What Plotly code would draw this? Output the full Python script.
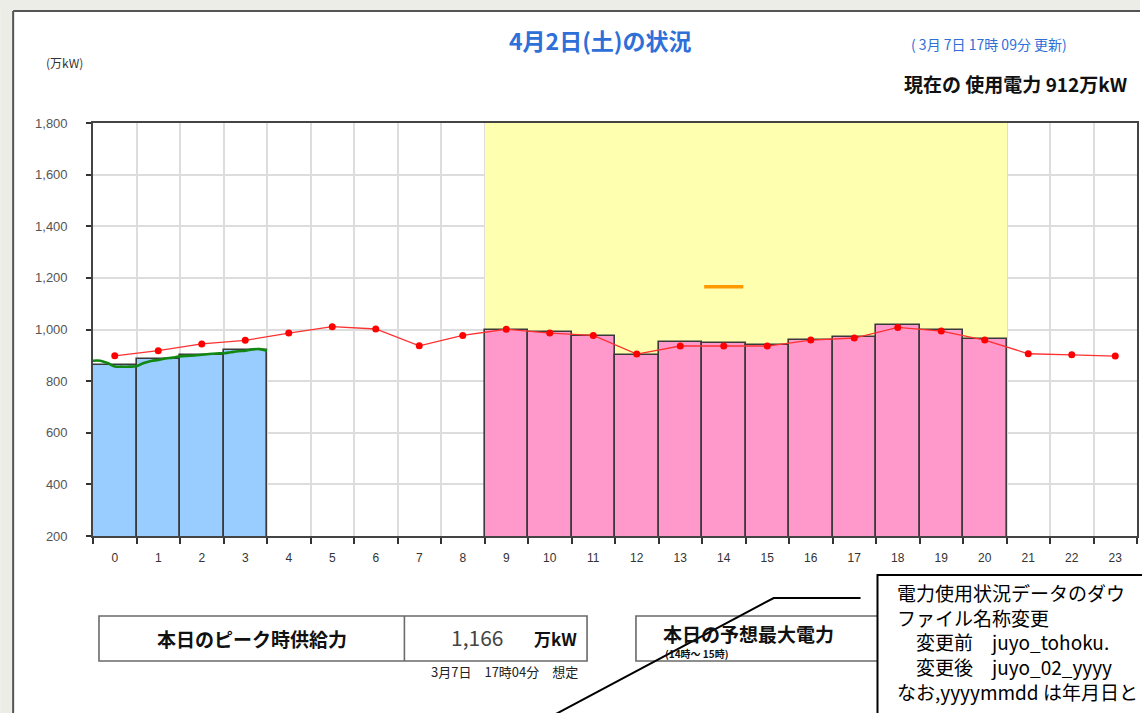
import plotly.graph_objects as go

# ---------------- data ----------------
hours = list(range(24))
hour_labels = [str(h) for h in hours]

actual_hours = [0, 1, 2, 3]
actual_vals = [864, 886, 901, 919]

forecast_hours = [9, 10, 11, 12, 13, 14, 15, 16, 17, 18, 19, 20]
forecast_vals = [1000, 989, 974, 902, 953, 949, 939, 959, 970, 1017, 1000, 962]

prev_vals = [898, 918, 944, 958, 986, 1011, 1002, 937, 977, 1001, 986, 977,
             905, 936, 936, 936, 959, 967, 1008, 994, 959, 906, 902, 897]

green_t = [0, 1/6, 2/6, 3/6, 4/6, 5/6, 1, 7/6, 8/6, 9/6, 10/6, 11/6, 2,
           13/6, 14/6, 15/6, 16/6, 17/6, 3, 19/6, 20/6, 21/6, 22/6, 23/6, 4]
green_vals = [879, 879, 870, 857, 856, 856, 858, 870, 878, 882, 888, 891, 896,
              898, 899, 902, 905, 907, 908, 912, 916, 918, 923, 924, 918]

peak_supply = 1166
peak_hour = 14

y_min, y_max = 200, 1800
y_ticks = [200, 400, 600, 800, 1000, 1200, 1400, 1600, 1800]

# ---------------- geometry helpers ----------------
W, H = 1142, 713
ML, MR, MT, MB = 93, 3, 123, 177
PW, PH = W - ML - MR, H - MT - MB


def X(px):
    return (px - ML) / PW


def Y(py):
    return (H - MB - py) / PH


JP = "Noto Sans CJK JP"
BLUE_TXT = "#2E6FD8"

fig = go.Figure()

# yellow forecast window (as full-height bars behind everything)
fig.add_trace(go.Bar(x=forecast_hours, y=[y_max] * len(forecast_hours), width=1,
                     marker=dict(color="#FFFFB0", line=dict(width=0)),
                     hoverinfo="skip", showlegend=False))
fig.add_trace(go.Bar(x=actual_hours, y=actual_vals, width=1,
                     marker=dict(color="#99CCFF", line=dict(color="#3A3A3A", width=1.6)),
                     showlegend=False))
fig.add_trace(go.Bar(x=forecast_hours, y=forecast_vals, width=1,
                     marker=dict(color="#FF99CC", line=dict(color="#3A3A3A", width=1.6)),
                     showlegend=False))
fig.add_trace(go.Scatter(x=[t - 0.5 for t in green_t], y=green_vals, mode="lines",
                         line=dict(color="#118811", width=2.6, shape="spline"),
                         showlegend=False))
fig.add_trace(go.Scatter(x=hours, y=prev_vals, mode="lines+markers",
                         line=dict(color="#FF3030", width=1.3),
                         marker=dict(color="#FF0000", size=7),
                         showlegend=False))
fig.add_trace(go.Scatter(x=[peak_hour - 0.45, peak_hour + 0.45], y=[peak_supply, peak_supply],
                         mode="lines", line=dict(color="#FF9900", width=3.5),
                         showlegend=False))

shapes = []
# page frame
shapes.append(dict(type="rect", xref="paper", yref="paper", x0=X(0), x1=X(W), y0=Y(10), y1=Y(0),
                   fillcolor="#ECEDE6", line=dict(width=0), layer="below"))
shapes.append(dict(type="rect", xref="paper", yref="paper", x0=X(0), x1=X(13), y0=Y(H), y1=Y(0),
                   fillcolor="#ECEDE6", line=dict(width=0), layer="below"))
shapes.append(dict(type="line", xref="paper", yref="paper", x0=X(13), x1=X(W), y0=Y(11), y1=Y(11),
                   line=dict(color="#555555", width=2)))
shapes.append(dict(type="line", xref="paper", yref="paper", x0=X(13), x1=X(13), y0=Y(11), y1=Y(H),
                   line=dict(color="#555555", width=2)))
# bottom boxes
shapes.append(dict(type="rect", xref="paper", yref="paper", x0=X(99), x1=X(588), y0=Y(661), y1=Y(616),
                   line=dict(color="#6A6A6A", width=1.6), fillcolor="white"))
shapes.append(dict(type="line", xref="paper", yref="paper", x0=X(405), x1=X(405), y0=Y(661), y1=Y(616),
                   line=dict(color="#6A6A6A", width=1.6)))
shapes.append(dict(type="rect", xref="paper", yref="paper", x0=X(637), x1=X(900), y0=Y(661), y1=Y(616),
                   line=dict(color="#6A6A6A", width=1.6), fillcolor="white"))
# callout pointer
shapes.append(dict(type="path", xref="paper", yref="paper",
                   path="M {} {} L {} {} L {} {}".format(X(553), Y(716), X(775), Y(598), X(862), Y(598)),
                   line=dict(color="#000000", width=2)))
# callout box
shapes.append(dict(type="rect", xref="paper", yref="paper", x0=X(879), x1=X(1160), y0=Y(730), y1=Y(575),
                   line=dict(color="#000000", width=2), fillcolor="white"))

annotations = []


def txt(text, px, py, size, color="#000000", xanchor="left", bold=False, yanchor="middle", align="left"):
    if bold:
        text = "<b>" + text + "</b>"
    annotations.append(dict(text=text, x=X(px), y=Y(py), xref="paper", yref="paper",
                            xanchor=xanchor, yanchor=yanchor, showarrow=False, align=align,
                            font=dict(family=JP, size=size, color=color)))


txt("4月2日(土)の状況", 601, 40, 23, BLUE_TXT, "center", bold=True)
txt("( 3月 7日 17時 09分 更新)", 911, 44, 14, BLUE_TXT, "left")
txt("(万kW)", 44, 62, 12, "#333333", "left")
txt("現在の 使用電力 912万kW", 1131, 84, 19, "#111111", "right", bold=True)

txt("本日のピーク時供給力", 252, 638, 19, "#111111", "center", bold=True)
txt("1,166", 506, 637, 21, "#444444", "right")
txt("万kW", 580, 638, 17, "#111111", "right", bold=True)
txt("3月7日　17時04分　想定", 581, 671, 13, "#222222", "right")

txt("本日の予想最大電力", 662, 633, 19, "#111111", "left", bold=True)
txt("(14時～ 15時)", 664, 653, 10, "#111111", "left", bold=True)

call_lines = ["電力使用状況データのダウ",
              "ファイル名称変更",
              "　変更前　juyo_tohoku.",
              "　変更後　juyo_02_yyyy",
              "なお,yyyymmdd は年月日と"]
txt("<br>".join(call_lines), 897, 577, 19, "#000000", "left", yanchor="top")

fig.update_layout(
    width=W, height=H,
    margin=dict(l=ML, r=MR, t=MT, b=MB, pad=0),
    paper_bgcolor="white", plot_bgcolor="white",
    barmode="overlay", bargap=0,
    showlegend=False,
    shapes=shapes, annotations=annotations,
    xaxis=dict(range=[-0.5, 23.5], tickmode="array", tickvals=hours, ticktext=hour_labels,
               showgrid=False, ticks="", zeroline=False,
               showline=True, mirror=True, linecolor="#444444", linewidth=1.6,
               tickfont=dict(family="Liberation Sans", size=12, color="#333333"),
               ticklabelstandoff=10,
               minor=dict(tickmode="linear", tick0=-0.5, dtick=1, showgrid=True,
                          gridcolor="#DDDDDD", gridwidth=1.5, ticks="outside",
                          ticklen=6, tickcolor="#333333", tickwidth=1.5)),
    yaxis=dict(range=[y_min, y_max], tickmode="array", tickvals=y_ticks,
               ticktext=[f"{v:,}" for v in y_ticks],
               showgrid=True, gridcolor="#DDDDDD", gridwidth=1.5, zeroline=False,
               ticks="outside", ticklen=5, tickcolor="#333333", tickwidth=1.5,
               showline=True, mirror=True, linecolor="#444444", linewidth=1.6,
               tickfont=dict(family="Liberation Sans", size=13, color="#555555"),
               ticklabelstandoff=16),
)

fig.write_html("out.html", config={"displayModeBar": False},
               post_script="document.body.style.margin='0';document.body.style.overflow='hidden';")
